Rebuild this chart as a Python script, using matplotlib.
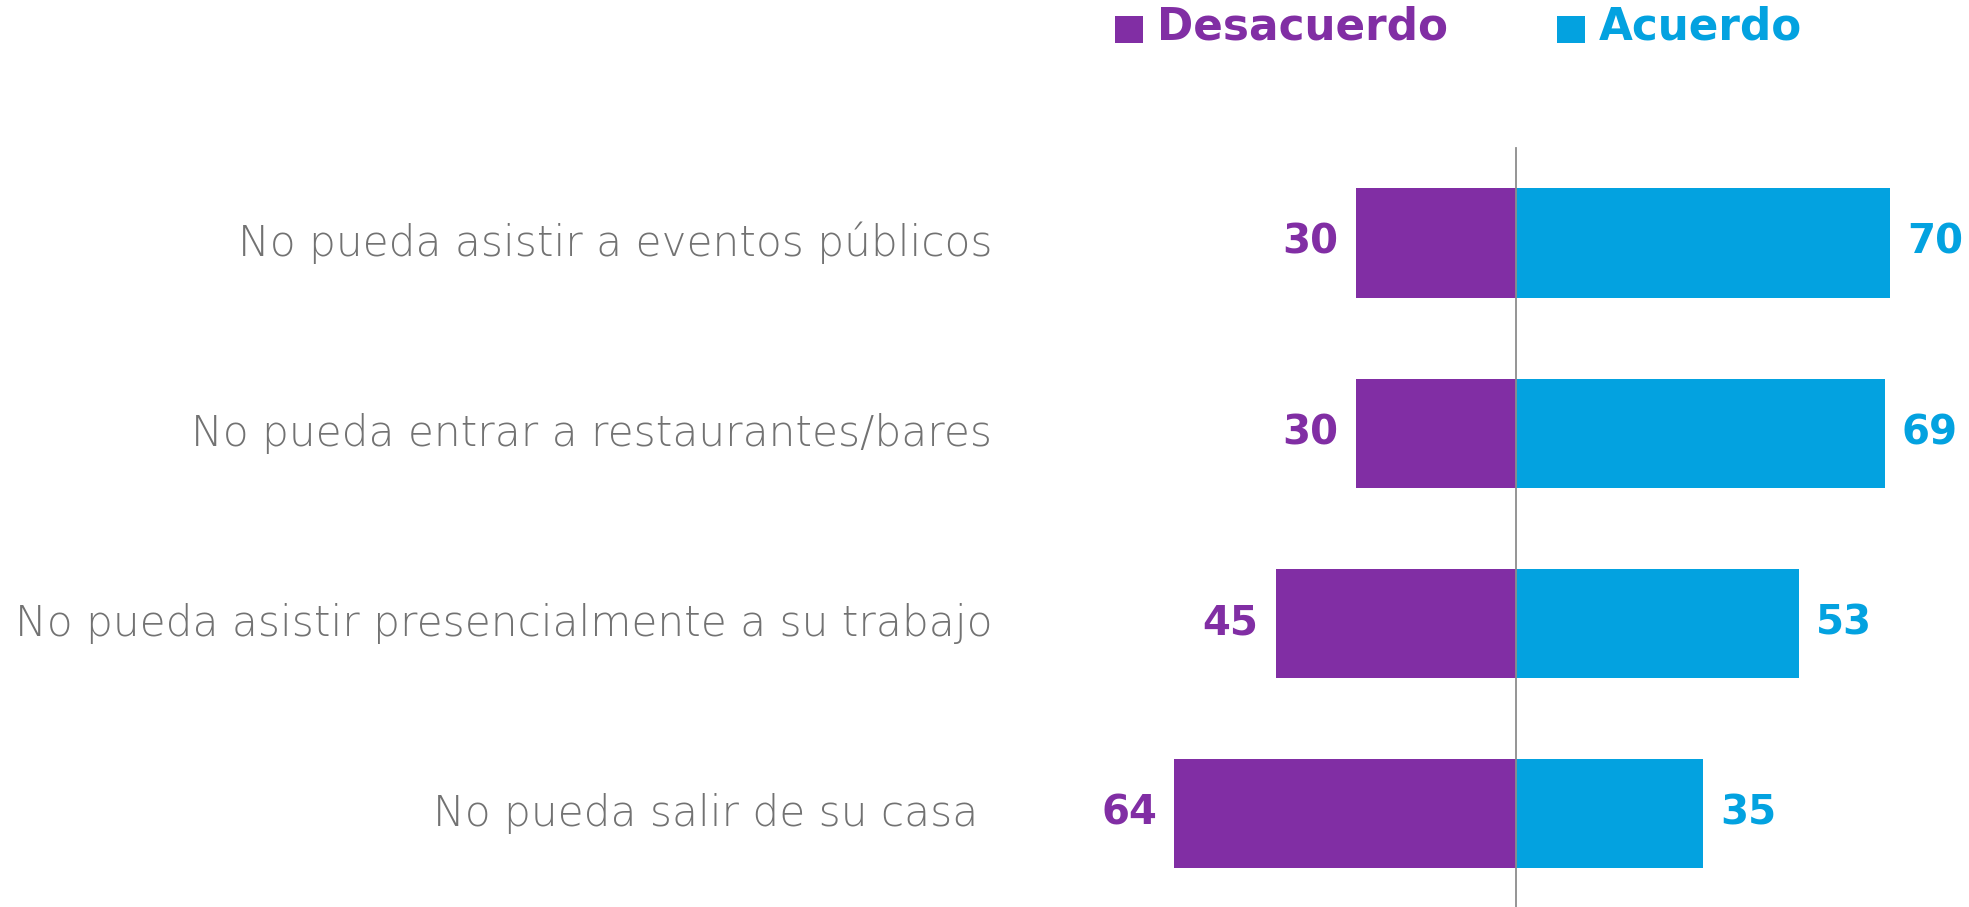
import matplotlib
matplotlib.use("Agg")
import matplotlib.pyplot as plt
from matplotlib.patches import Rectangle
import matplotlib.transforms as mtransforms

categories = [
    "No pueda asistir a eventos públicos",
    "No pueda entrar a restaurantes/bares",
    "No pueda asistir presencialmente a su trabajo",
    "No pueda salir de su casa ",
]
desacuerdo = [30, 30, 45, 64]
acuerdo = [70, 69, 53, 35]
series_names = ["Desacuerdo", "Acuerdo"]

PURPLE = "#812EA4"
BLUE = "#03A2E0"
GRAY = "#727272"

W, H, DPI = 1969, 907, 100
fig = plt.figure(figsize=(W / DPI, H / DPI), dpi=DPI)
ax = fig.add_axes([0, 0, 1, 1])
ax.set_axis_off()

center_px = 1516
px_per_unit = 5.343
ax.set_xlim(-center_px / px_per_unit, (W - center_px) / px_per_unit)
pitch = 190.3
first_c = 243
ax.set_ylim((H - first_c) / pitch, -first_c / pitch)

ys = list(range(len(categories)))
bh = 0.573
ax.barh(ys, [-v for v in desacuerdo], height=bh, color=PURPLE, linewidth=0)
ax.barh(ys, acuerdo, height=bh, color=BLUE, linewidth=0)
ax.plot([0, 0], [-0.5, (H - first_c) / pitch], color="#8c8c8c", lw=1.3, zorder=3)

label_font = dict(family="DejaVu Sans", weight=200)
num_font = dict(family="DejaVu Sans", weight="bold")

gap = 17 / px_per_unit
for y, d, a in zip(ys, desacuerdo, acuerdo):
    ax.text(-d - gap, y, str(d), ha="right", va="center", color=PURPLE,
            fontsize=29, **num_font)
    ax.text(a + gap, y, str(a), ha="left", va="center", color=BLUE,
            fontsize=29, **num_font)

trans = mtransforms.blended_transform_factory(fig.transFigure, ax.transData)
label_texts = []
for y, c in zip(ys, categories):
    t = ax.text(992 / W, y, c, transform=trans, ha="right", va="center",
                color=GRAY, fontsize=26, **label_font)
    label_texts.append(t)

# scale label font so the longest label spans the same width as the reference
fig.canvas.draw()
r = fig.canvas.get_renderer()
wmax = max(t.get_window_extent(r).width for t in label_texts)
fs = 26 * 977 / wmax
for t in label_texts:
    t.set_fontsize(fs)

# legend
def fx(p):
    return p / W

def fy(p):
    return 1 - p / H

sq = 28
for x0, name, col in [(1115, series_names[0], PURPLE), (1557, series_names[1], BLUE)]:
    fig.patches.append(Rectangle((fx(x0), fy(43)), sq / W, 27 / H,
                                 transform=fig.transFigure, color=col, lw=0))
    fig.text(fx(x0 + 42), fy(27), name, ha="left", va="center", color=col,
             fontsize=31.5, **num_font)

fig.savefig("out.png", dpi=DPI)
